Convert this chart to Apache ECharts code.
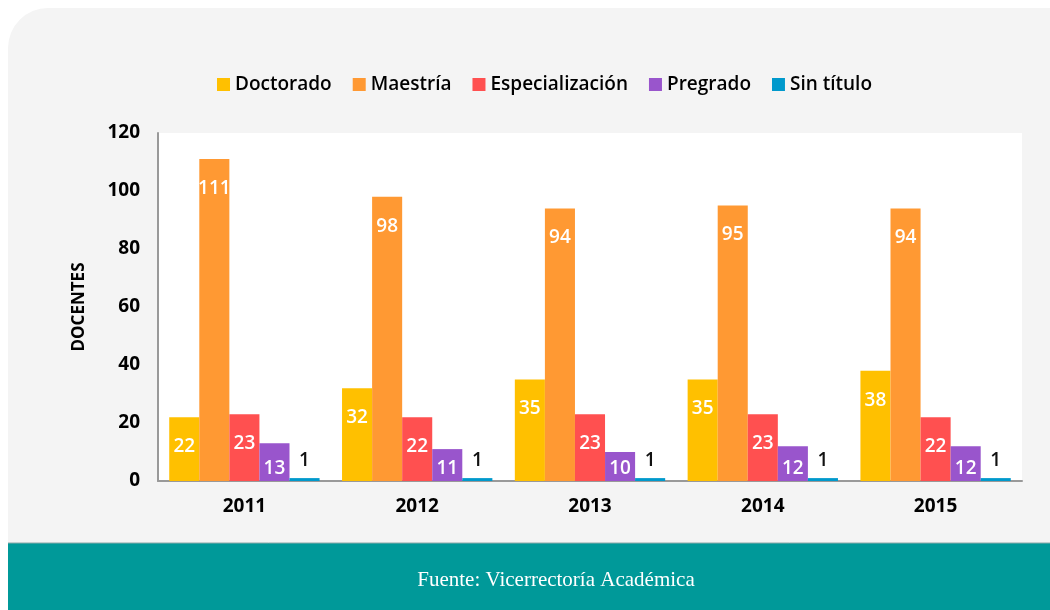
<!DOCTYPE html>
<html>
<head>
<meta charset="utf-8">
<script src="https://cdn.jsdelivr.net/npm/echarts@6/dist/echarts.min.js"></script>
<style>
  html, body { margin: 0; padding: 0; background: #ffffff; }
  #chart { width: 1050px; height: 610px; }
</style>
</head>
<body>
<div id="chart"></div>
<script>
// Docentes por nivel de formación, 2011–2015
const years = ['2011', '2012', '2013', '2014', '2015'];
const doctorado = [22, 32, 35, 35, 38];
const maestria = [111, 98, 94, 95, 94];
const especializacion = [23, 22, 23, 23, 22];
const pregrado = [13, 11, 10, 12, 12];
const sinTitulo = [1, 1, 1, 1, 1];

const FONT = '"Open Sans", "Noto Sans", sans-serif';

const insideTopLabel = {
  show: true, position: 'insideTop', distance: 20,
  color: '#ffffff', fontFamily: FONT, fontSize: 19, fontWeight: 600
};
const insideBottomLabel = {
  show: true, position: 'insideBottom', distance: 3,
  color: '#ffffff', fontFamily: FONT, fontSize: 19, fontWeight: 600
};
const topLabel = {
  show: true, position: 'top', distance: 8,
  color: '#111111', fontFamily: FONT, fontSize: 19, fontWeight: 600
};

function barSeries(name, data, color, label) {
  return {
    name, type: 'bar', data,
    barGap: '0%', barCategoryGap: '13%',
    itemStyle: { color },
    label,
    emphasis: { disabled: true }
  };
}

const chart = echarts.init(document.getElementById('chart'), null, { renderer: 'canvas' });
chart.setOption({
  animation: false,
  backgroundColor: '#ffffff',
  graphic: [
    { type: 'rect', z: -10, shape: { x: 8, y: 8, width: 1100, height: 560, r: [40, 0, 0, 0] },
      style: { fill: '#f4f4f4' } },
    { type: 'rect', z: -9, shape: { x: 8, y: 543, width: 1100, height: 70 },
      style: { fill: '#009999' } },
    { type: 'line', z: -8, shape: { x1: 8, y1: 543, x2: 1050, y2: 543 },
      style: { stroke: '#8aa9a9', lineWidth: 1 } },
    { type: 'text', z: 10, x: 556, y: 580,
      style: { text: 'Fuente: Vicerrectoría Académica', fill: '#ffffff',
        font: '21px "Liberation Serif", "DejaVu Serif", serif',
        textAlign: 'center', textVerticalAlign: 'middle' } }
  ],
  legend: {
    left: 212, top: 70,
    itemWidth: 13, itemHeight: 13, itemGap: 21,
    icon: 'rect',
    textStyle: { fontFamily: FONT, fontSize: 19, fontWeight: 600, color: '#000000' },
    data: ['Doctorado', 'Maestría', 'Especialización', 'Pregrado', 'Sin título']
  },
  grid: {
    left: 158, right: 28, top: 133, bottom: 129,
    show: true, backgroundColor: '#ffffff', borderWidth: 0
  },
  xAxis: {
    type: 'category', data: years,
    axisLine: { lineStyle: { color: '#999999', width: 2 } },
    axisTick: { show: false },
    axisLabel: { color: '#000000', fontFamily: FONT, fontSize: 19, fontWeight: 700, margin: 16 }
  },
  yAxis: {
    type: 'value', min: 0, max: 120, interval: 20,
    name: 'DOCENTES', nameLocation: 'middle', nameGap: 70, nameRotate: 90,
    nameTextStyle: { color: '#000000', fontFamily: FONT, fontSize: 17, fontWeight: 700 },
    axisLine: { show: true, lineStyle: { color: '#999999', width: 2 } },
    axisTick: { show: false },
    splitLine: { show: false },
    axisLabel: { color: '#000000', fontFamily: FONT, fontSize: 19, fontWeight: 700, margin: 18 }
  },
  series: [
    barSeries('Doctorado', doctorado, '#ffc000', insideTopLabel),
    barSeries('Maestría', maestria, '#ff9933', insideTopLabel),
    barSeries('Especialización', especializacion, '#ff5050', insideTopLabel),
    barSeries('Pregrado', pregrado, '#9955cc', insideBottomLabel),
    barSeries('Sin título', sinTitulo, '#0099cc', topLabel)
  ]
});
</script>
</body>
</html>
